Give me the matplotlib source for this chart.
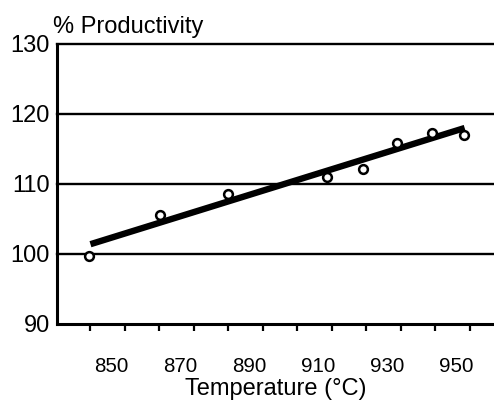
import matplotlib
matplotlib.use("Agg")
import matplotlib.pyplot as plt

plt.rcParams['font.family'] = ['Liberation Sans', 'DejaVu Sans']

# measured points (temperature, % productivity)
temps = [843.6, 864.2, 883.9, 912.6, 923.0, 932.9, 943.0, 952.3]
prod = [99.7, 105.6, 108.6, 111.0, 112.2, 115.9, 117.3, 117.0]

# fitted trend line endpoints
fit_x = [844.0, 952.5]
fit_y = [101.4, 118.0]

x_labels = [850, 870, 890, 910, 930, 950]
x_minor = [844 + 10 * k for k in range(12)]
y_ticks = [90, 100, 110, 120, 130]


def main():
    fig = plt.figure(figsize=(4.94, 4.01), dpi=100)
    ax = fig.add_axes([57 / 494, 77 / 401, 437 / 494, 280 / 401])
    ax.set_xlim(834.3, 961)
    ax.set_ylim(90, 130)

    # horizontal rules
    for y in y_ticks[1:]:
        ax.axhline(y, color="black", lw=1.7, zorder=1, clip_on=False)

    ax.plot(fit_x, fit_y, color="black", lw=4.6, solid_capstyle="butt", zorder=2)
    ax.plot(temps, prod, linestyle="none", marker="o", markersize=6.3,
            markerfacecolor="white", markeredgecolor="black", markeredgewidth=1.8, zorder=3)

    for side in ("top", "right"):
        ax.spines[side].set_visible(False)
    for side in ("left", "bottom"):
        ax.spines[side].set_linewidth(2.2)

    ax.set_yticks(y_ticks)
    ax.tick_params(axis="y", length=0, pad=5, labelsize=17)
    ax.set_xticks(x_labels)
    ax.set_xticks(x_minor, minor=True)
    ax.tick_params(axis="x", which="major", length=0, pad=23.5, labelsize=14.8)
    ax.tick_params(axis="x", which="minor", length=5, width=1.6, direction="out")

    ax.set_xlabel("Temperature (°C)", fontsize=17, labelpad=2)
    fig.text(53 / 494, 1 - 33 / 401, "% Productivity", fontsize=17, ha="left", va="baseline")

    fig.savefig("out.png", dpi=100)


if __name__ == "__main__":
    main()
